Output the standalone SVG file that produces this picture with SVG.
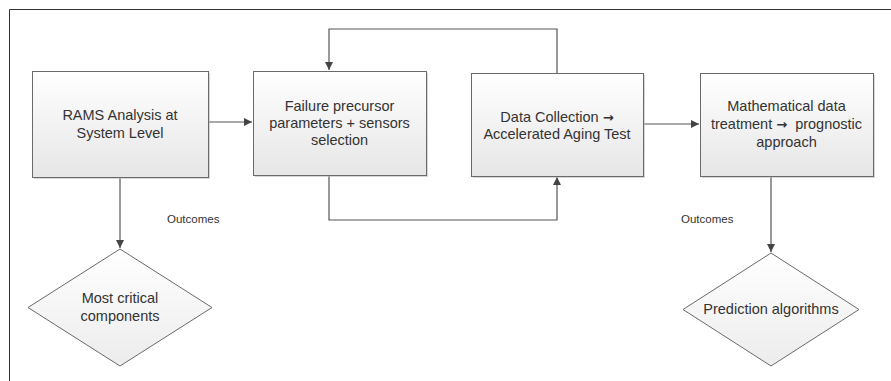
<svg xmlns="http://www.w3.org/2000/svg" width="891" height="381" viewBox="0 0 891 381">
<style>
.box{fill:url(#g);stroke:#6a6a6a;stroke-width:1}
.shadow{fill:#bdbdbd;opacity:0.6}
.dia{fill:url(#gd);stroke:#6a6a6a;stroke-width:1}
.t{font-family:"Liberation Sans",Arial,sans-serif;font-size:14.5px;fill:#333;text-anchor:middle}
.ar{font-family:"DejaVu Sans",sans-serif;font-weight:bold;font-size:13px}
.lbl{font-family:"Liberation Sans",Arial,sans-serif;font-size:11.5px;fill:#333}
.c{fill:none;stroke:#555;stroke-width:1.2}
</style>
<defs>
<linearGradient id="g" x1="0" y1="0" x2="0" y2="1"><stop offset="0" stop-color="#ffffff"/><stop offset="1" stop-color="#e6e6e6"/></linearGradient>
<linearGradient id="gd" x1="0" y1="0" x2="0" y2="1"><stop offset="0" stop-color="#ffffff"/><stop offset="1" stop-color="#ececec"/></linearGradient>
<marker id="a" markerWidth="10" markerHeight="10" refX="8" refY="4" orient="auto" markerUnits="userSpaceOnUse"><path d="M0,0 L8,4 L0,8 Z" fill="#444"/></marker>
</defs>
<rect width="891" height="381" fill="#fff"/>
<path d="M9.5,385 V9.5 H895" fill="none" stroke="#333" stroke-width="1"/>
<g id="connectors">
<path class="c" d="M205,122 H252" marker-end="url(#a)"/>
<path class="c" d="M329,175 V220 H557 V177" marker-end="url(#a)"/>
<path class="c" d="M557,73 V29 H329 V70" marker-end="url(#a)"/>
<path class="c" d="M643,124 H699" marker-end="url(#a)"/>
<path class="c" d="M120,177 V248" marker-end="url(#a)"/>
<path class="c" d="M771,176 V252" marker-end="url(#a)"/>
<text class="lbl" x="167" y="223">Outcomes</text>
<text class="lbl" x="681" y="223">Outcomes</text>
</g>
<g id="n1">
<rect class="shadow" x="34" y="73" width="176" height="106"/>
<rect class="box" x="32.5" y="71.5" width="176" height="106"/>
<text class="t" x="120" y="120">RAMS Analysis at</text>
<text class="t" x="120" y="138">System Level</text>
</g>
<g id="n2">
<rect class="shadow" x="255" y="73" width="173" height="104"/>
<rect class="box" x="253.5" y="71.5" width="173" height="104"/>
<text class="t" x="339.5" y="111">Failure precursor</text>
<text class="t" x="339.5" y="128">parameters + sensors</text>
<text class="t" x="339.5" y="145">selection</text>
</g>
<g id="n3">
<rect class="shadow" x="473" y="75" width="172" height="103"/>
<rect class="box" x="471.5" y="73.5" width="172" height="103"/>
<text class="t" x="557" y="122">Data Collection <tspan class="ar">→</tspan></text>
<text class="t" x="557" y="139">Accelerated Aging Test</text>
</g>
<g id="n4">
<rect class="shadow" x="702" y="75" width="173" height="103"/>
<rect class="box" x="700.5" y="73.5" width="173" height="103"/>
<text class="t" x="786.5" y="111">Mathematical data</text>
<text class="t" x="786.5" y="129" xml:space="preserve">treatment <tspan class="ar">→</tspan>  prognostic</text>
<text class="t" x="786.5" y="147">approach</text>
</g>
<g id="n5">
<polygon class="dia" points="120,249 212,307.5 120,366 28,307.5"/>
<text class="t" x="120" y="303">Most critical</text>
<text class="t" x="120" y="321">components</text>
</g>
<g id="n6">
<polygon class="dia" points="771,253 859,309.5 771,366 683,309.5"/>
<text class="t" x="771" y="314">Prediction algorithms</text>
</g>
</svg>
